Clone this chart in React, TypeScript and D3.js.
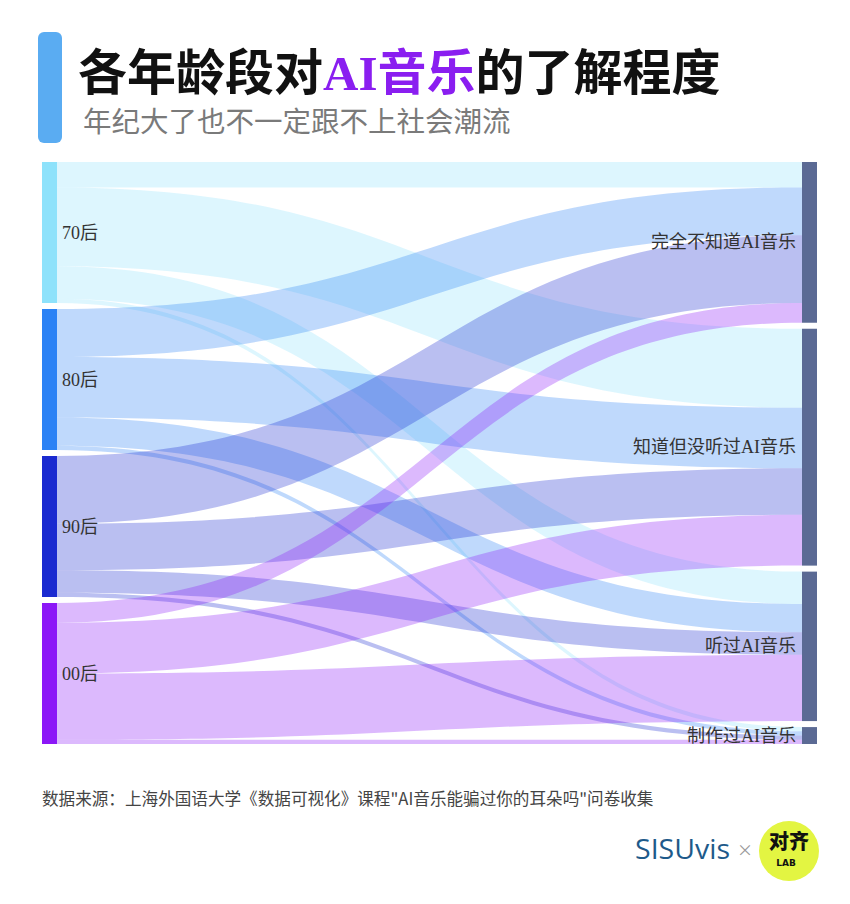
import React from 'react';
import * as d3 from 'd3';

const ages = ['70后', '80后', '90后', '00后'];
const levels = ['完全不知道AI音乐', '知道但没听过AI音乐', '听过AI音乐', '制作过AI音乐'];
// share (%) of each age group at each awareness level, in the order of `levels`
const v70 = [18, 56, 23, 3];
const v80 = [34, 43, 20, 3];
const v90 = [48, 33, 16, 3];
const v00 = [14, 36, 47, 3];
const ageValues = [v70, v80, v90, v00];

const ageColors = ['#8ee2fb', '#2b82f5', '#1a2ad0', '#8c17f7'];
const levelColor = '#5b6a94';

const W = 850;
const H = 904;
const TOP = 162;
const BOTTOM = 744;
const GAP = 6;
const NODE_W = 15;
const LEFT_X = 42;
const RIGHT_X = 802;

const serif = "'Liberation Serif', 'DejaVu Serif', 'Noto Sans CJK SC', serif";
const sans = "'Noto Sans CJK SC', 'Noto Sans', sans-serif";

export default function App() {
  const total = d3.sum(ageValues.map((a) => d3.sum(a)));
  const k = d3.scaleLinear().domain([0, total]).range([0, BOTTOM - TOP - GAP * 3]);

  const leftNodes: { name: string; y0: number; y1: number; color: string }[] = [];
  let y = TOP;
  ages.forEach((a, i) => {
    const h = k(d3.sum(ageValues[i]));
    leftNodes.push({ name: a, y0: y, y1: y + h, color: ageColors[i] });
    y += h + GAP;
  });
  const rightNodes: { name: string; y0: number; y1: number }[] = [];
  y = TOP;
  levels.forEach((l, j) => {
    const h = k(d3.sum(ageValues.map((a) => a[j])));
    rightNodes.push({ name: l, y0: y, y1: y + h });
    y += h + GAP;
  });

  const links: { d: string; color: string; key: string }[] = [];
  const x0 = LEFT_X + NODE_W;
  const x1 = RIGHT_X;
  const xm = d3.interpolateNumber(x0, x1)(0.5);
  const srcOffset = leftNodes.map((n) => n.y0);
  const tgtOffset = rightNodes.map((n) => n.y0);
  ages.forEach((_, i) => {
    levels.forEach((_, j) => {
      const h = k(ageValues[i][j]);
      const sy0 = srcOffset[i];
      const sy1 = sy0 + h;
      srcOffset[i] = sy1;
      const ty0 = tgtOffset[j];
      const ty1 = ty0 + h;
      tgtOffset[j] = ty1;
      const p = d3.path();
      p.moveTo(x0, sy0);
      p.bezierCurveTo(xm, sy0, xm, ty0, x1, ty0);
      p.lineTo(x1, ty1);
      p.bezierCurveTo(xm, ty1, xm, sy1, x0, sy1);
      p.closePath();
      links.push({ d: p.toString(), color: ageColors[i], key: `${i}-${j}` });
    });
  });

  return (
    <svg
      width={W}
      height={H}
      viewBox={`0 0 ${W} ${H}`}
      style={{ position: 'absolute', left: 0, top: 0, background: '#fff' }}
    >
      <rect x={0} y={0} width={W} height={H} fill="#fff" />
      <rect x={38} y={32} width={24} height={111} rx={6} fill="#5aacf2" />
      <text x={78} y={90} fontSize={49} fontWeight="bold" fontFamily={serif} fill="#111">
        各年龄段对<tspan fill="#8a1ef0">AI音乐</tspan>的了解程度
      </text>
      <text x={83} y={132} fontSize={28.5} fontFamily={serif} fill="#7a7a7a">
        年纪大了也不一定跟不上社会潮流
      </text>

      <g>
        {links.map((l) => (
          <path key={l.key} d={l.d} fill={l.color} fillOpacity={0.3} />
        ))}
      </g>

      {leftNodes.map((n) => (
        <g key={n.name}>
          <rect x={LEFT_X} y={n.y0} width={NODE_W} height={n.y1 - n.y0} fill={n.color} />
          <text
            x={LEFT_X + NODE_W + 5}
            y={(n.y0 + n.y1) / 2}
            dominantBaseline="central"
            fontSize={18}
            fontFamily={serif}
            fill="#333"
          >
            {n.name}
          </text>
        </g>
      ))}
      {rightNodes.map((n) => (
        <g key={n.name}>
          <rect x={RIGHT_X} y={n.y0} width={NODE_W} height={n.y1 - n.y0} fill={levelColor} />
          <text
            x={RIGHT_X - 6}
            y={(n.y0 + n.y1) / 2}
            dominantBaseline="central"
            textAnchor="end"
            fontSize={18}
            fontFamily={serif}
            fill="#333"
          >
            {n.name}
          </text>
        </g>
      ))}

      <text x={42} y={805} fontSize={16.6} fontFamily={sans} fill="#444">
        数据来源：上海外国语大学《数据可视化》课程"AI音乐能骗过你的耳朵吗"问卷收集
      </text>

      <text x={635} y={859} fontSize={28} fontFamily="'Open Sans', Lato, sans-serif" fill="#1e5a8a" textLength={95} lengthAdjust="spacingAndGlyphs">
        SISUvis
      </text>
      <text x={745} y={856} fontSize={16} textAnchor="middle" fontFamily={sans} fill="#999">
        ×
      </text>
      <circle cx={789} cy={851} r={30} fill="#e3f542" />
      <text x={789} y={849} fontSize={20} fontWeight={900} textAnchor="middle" fontFamily={sans} fill="#111">
        对齐
      </text>
      <text x={786} y={866} fontSize={9} fontWeight={900} textAnchor="middle" fontFamily="'DejaVu Sans', sans-serif" fill="#111">
        LAB
      </text>
    </svg>
  );
}
